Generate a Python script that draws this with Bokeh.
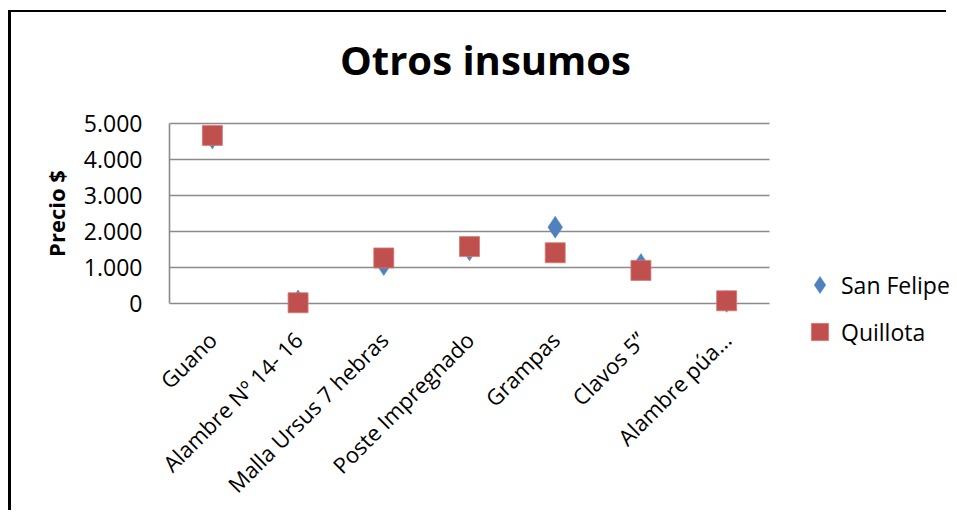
from bokeh.plotting import figure
from bokeh.models import Range1d, FixedTicker, Legend, LegendItem, Label
from bokeh.embed import file_html
from bokeh.resources import INLINE

# ---- data ----
categories = ["Guano", "Alambre Nº 14- 16", "Malla Ursus 7 hebras",
              "Poste Impregnado", "Grampas", "Clavos 5”", "Alambre púa…"]
san_felipe = [4600, 70, 1080, 1490, 2120, 1080, 60]
quillota = [4670, 20, 1265, 1580, 1410, 920, 75]
y_ticks = [0, 1000, 2000, 3000, 4000, 5000]
title_text = "Otros insumos"
y_label = "Precio $"

FONT = "Open Sans"
BLUE = "#4F81BD"
RED = "#C0504D"
GRID = "#8A8A8A"

# ---- layout (canvas pixels; canvas starts 11px right / 12px down on the page) ----
W, H = 938, 500
FRAME_L, FRAME_T, FRAME_B = 158, 18, 384
CAT_W = 600 / 7            # px per category
Y_PX = 180 / 5000          # px per value unit
ZERO_Y = 291               # canvas y of value 0

n = len(categories)
xpos = list(range(1, n + 1))
x_end = 0.5 + (W - FRAME_L) / CAT_W
y_start = -(FRAME_B - ZERO_Y) / Y_PX
y_end = (ZERO_Y - FRAME_T) / Y_PX

p = figure(width=W, height=H, output_backend="svg", toolbar_location=None,
           title=None,
           x_range=Range1d(0.5, x_end), y_range=Range1d(y_start, y_end),
           min_border_left=FRAME_L, min_border_right=0,
           min_border_top=FRAME_T, min_border_bottom=H - FRAME_B)
# chart border (left and top edges, as in the reference)
p.styles = {"margin-left": "11px", "margin-top": "12px",
            "box-shadow": "-3px -2px 0px 0px black"}
p.outline_line_color = None
p.background_fill_color = "white"
p.border_fill_color = "white"

r1 = p.scatter(xpos, san_felipe, marker="diamond", size=22,
               fill_color=BLUE, line_color=BLUE, line_width=0.5)
r2 = p.scatter(xpos, quillota, marker="square", size=20,
               fill_color=RED, line_color="#D07A78", line_width=0.8)

# title
p.add_layout(Label(x=474, y=47, x_units="canvas", y_units="canvas",
                   text=title_text, text_align="center",
                   text_baseline="alphabetic", text_font=FONT,
                   text_font_size="40px", text_font_style="bold",
                   text_color="black"))

# y axis
p.yaxis.ticker = FixedTicker(ticks=y_ticks)
p.yaxis.major_label_overrides = {t: f"{t:,}".replace(",", ".") for t in y_ticks}
p.yaxis.bounds = (y_ticks[0], y_ticks[-1])
p.yaxis.axis_line_color = GRID
p.yaxis.axis_line_width = 1.6
p.yaxis.major_tick_line_color = None
p.yaxis.minor_tick_line_color = None
p.yaxis.major_label_standoff = 21
p.yaxis.major_label_text_font = FONT
p.yaxis.major_label_text_font_size = "23px"
p.yaxis.major_label_text_color = "black"
p.yaxis.axis_label = y_label
p.yaxis.axis_label_text_font = FONT
p.yaxis.axis_label_text_font_size = "22px"
p.yaxis.axis_label_text_font_style = "bold"
p.yaxis.axis_label_text_color = "black"
p.yaxis.axis_label_standoff = 10

# x axis (categories at integer positions)
p.xaxis.ticker = FixedTicker(ticks=xpos)
p.xaxis.major_label_overrides = {i: c for i, c in zip(xpos, categories)}
p.xaxis.axis_line_color = None
p.xaxis.major_tick_line_color = None
p.xaxis.minor_tick_line_color = None
p.xaxis.major_label_orientation = 0.785398
p.xaxis.major_label_standoff = -67
p.xaxis.major_label_text_font = FONT
p.xaxis.major_label_text_font_size = "22px"
p.xaxis.major_label_text_color = "black"

# grid
p.xgrid.grid_line_color = None
p.ygrid.ticker = FixedTicker(ticks=y_ticks)
p.ygrid.cross_bounds = (0.5, n + 0.5)
p.ygrid.grid_line_color = GRID
p.ygrid.grid_line_width = 1.6

# legend
legend = Legend(items=[LegendItem(label="San Felipe", renderers=[r1]),
                       LegendItem(label="Quillota", renderers=[r2])],
                location=(629, 43), orientation="vertical",
                glyph_width=43, glyph_height=43, label_height=20,
                label_standoff=0, spacing=4, padding=0, margin=0,
                border_line_color=None, background_fill_alpha=0,
                label_text_font=FONT, label_text_font_size="23px",
                label_text_color="black")
p.add_layout(legend, "center")

open("out.html", "w").write(file_html(p, INLINE))
